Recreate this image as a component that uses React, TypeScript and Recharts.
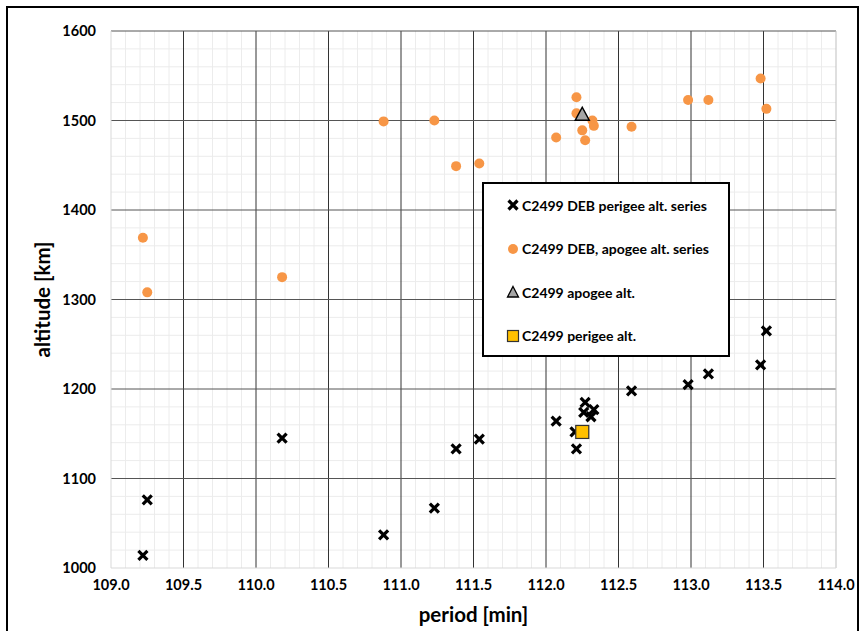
import React from 'react';
import { ScatterChart, Scatter, XAxis, YAxis, ReferenceLine } from 'recharts';

const perigeePeriod = [109.22, 109.25, 110.18, 110.88, 111.23, 111.38, 111.54, 112.07, 112.21, 112.2, 112.26, 112.27, 112.31, 112.33, 112.59, 112.98, 113.12, 113.48, 113.52];
const perigeeAlt = [1014, 1076, 1145, 1037, 1067, 1133, 1144, 1164, 1133, 1152, 1174, 1185, 1169, 1177, 1198, 1205, 1217, 1227, 1265];
const apogeePeriod = [109.22, 109.25, 110.18, 110.88, 111.23, 111.38, 111.54, 112.07, 112.21, 112.21, 112.25, 112.27, 112.32, 112.33, 112.59, 112.98, 113.12, 113.48, 113.52];
const apogeeAlt = [1369, 1308, 1325, 1499, 1500, 1449, 1452, 1481, 1526, 1508, 1489, 1478, 1500, 1494, 1493, 1523, 1523, 1547, 1513];
const c2499Apogee = [{ period: 112.25, alt: 1507 }];
const c2499Perigee = [{ period: 112.25, alt: 1152 }];

const xTicks = [109.0, 109.5, 110.0, 110.5, 111.0, 111.5, 112.0, 112.5, 113.0, 113.5, 114.0];
const yTicks = [1000, 1100, 1200, 1300, 1400, 1500, 1600];

const seriesNames = [
  'C2499 DEB perigee alt. series',
  'C2499 DEB, apogee alt. series',
  'C2499 apogee alt.',
  'C2499 perigee alt.',
];

const perigeeData = perigeePeriod.map((p, i) => ({ period: p, alt: perigeeAlt[i] }));
const apogeeData = apogeePeriod.map((p, i) => ({ period: p, alt: apogeeAlt[i] }));

const minorX: number[] = [];
for (let i = 1; i < 50; i++) { if (i % 5 !== 0) minorX.push(Math.round((109 + i * 0.1) * 10) / 10); }
const minorY: number[] = [];
for (let i = 1; i < 30; i++) { if (i % 5 !== 0) minorY.push(1000 + i * 20); }

const FONT = 'Lato, "Open Sans", sans-serif';
const ORANGE = '#F79646';

const Cross = (props: any) => {
  const { cx, cy } = props;
  const s = 4.5;
  return (
    <path d={`M${cx - s},${cy - s}L${cx + s},${cy + s}M${cx + s},${cy - s}L${cx - s},${cy + s}`} stroke="#000" strokeWidth={3.2} fill="none" />
  );
};
const Dot = (props: any) => <circle cx={props.cx} cy={props.cy} r={5} fill={ORANGE} />;
const Tri = (props: any) => {
  const { cx, cy } = props;
  return <path d={`M${cx},${cy - 7}L${cx + 7},${cy + 6}L${cx - 7},${cy + 6}Z`} fill="#A5A5A5" stroke="#000" strokeWidth={1.5} />;
};
const Sq = (props: any) => {
  const { cx, cy } = props;
  return <rect x={cx - 6.5} y={cy - 6.5} width={13} height={13} fill="#FFC000" stroke="#333" strokeWidth={1.2} />;
};

const legendIcon = (i: number) => {
  const w = 14;
  return (
    <svg width={w} height={w} style={{ display: 'block' }}>
      {i === 0 && <path d="M2.5,2.5L11.5,11.5M11.5,2.5L2.5,11.5" stroke="#000" strokeWidth={3.2} />}
      {i === 1 && <circle cx={7} cy={7} r={5} fill={ORANGE} />}
      {i === 2 && <path d="M7,1.5L12.5,12L1.5,12Z" fill="#A5A5A5" stroke="#000" strokeWidth={1.3} />}
      {i === 3 && <rect x={1.5} y={1.5} width={11} height={11} fill="#FFC000" stroke="#333" strokeWidth={1.2} />}
    </svg>
  );
};

export default function App() {
  return (
    <div style={{ position: 'fixed', left: 0, top: 0, width: 863, height: 631, background: '#fff', overflow: 'hidden', fontFamily: FONT }}>
      <div style={{ position: 'absolute', left: 6, top: 6, width: 849, height: 700, border: '2px solid #000' }} />
      <div style={{ position: 'absolute', left: 0, top: 0 }}>
        <ScatterChart width={863} height={631} margin={{ top: 31, right: 27, bottom: 33, left: 31 }}>
          <XAxis
            type="number"
            dataKey="period"
            domain={[109, 114]}
            ticks={xTicks}
            tickFormatter={(v: number) => v.toFixed(1)}
            axisLine={false}
            tickLine={false}
            tickSize={0}
            tickMargin={12}
            height={30}
            tick={{ fill: '#000', fontSize: 14.5, fontWeight: 700, fontFamily: FONT }}
            label={{ value: 'period [min]', position: 'insideBottom', offset: -24, fill: '#000', fontSize: 20.5, fontWeight: 700, fontFamily: FONT }}
          />
          <YAxis
            type="number"
            dataKey="alt"
            domain={[1000, 1600]}
            ticks={yTicks}
            axisLine={false}
            tickLine={false}
            tickSize={0}
            tickMargin={15}
            width={80}
            tick={{ fill: '#000', fontSize: 14.5, fontWeight: 700, fontFamily: FONT }}
            label={{ value: 'altitude [km]', angle: -90, position: 'insideLeft', offset: 12, style: { textAnchor: 'middle' }, fill: '#000', fontSize: 20.5, fontWeight: 700, fontFamily: FONT }}
          />
          {minorX.map((x) => (
            <ReferenceLine key={'mx' + x} x={x} stroke="#ececec" strokeWidth={1} ifOverflow="hidden" />
          ))}
          {minorY.map((y) => (
            <ReferenceLine key={'my' + y} y={y} stroke="#ececec" strokeWidth={1} ifOverflow="hidden" />
          ))}
          {xTicks.slice(1, -1).map((x) => (
            <ReferenceLine key={'Mx' + x} x={x} stroke="#333" strokeWidth={1} />
          ))}
          {yTicks.slice(1).map((y) => (
            <ReferenceLine key={'My' + y} y={y} stroke="#555" strokeWidth={1} />
          ))}
          <ReferenceLine x={109} stroke="#d9d9d9" strokeWidth={1} />
          <ReferenceLine x={114} stroke="#bfbfbf" strokeWidth={1} />
          <ReferenceLine y={1000} stroke="#d9d9d9" strokeWidth={1} />
          <Scatter name={seriesNames[1]} data={apogeeData} shape={Dot} isAnimationActive={false} />
          <Scatter name={seriesNames[0]} data={perigeeData} shape={Cross} isAnimationActive={false} />
          <Scatter name={seriesNames[2]} data={c2499Apogee} shape={Tri} isAnimationActive={false} />
          <Scatter name={seriesNames[3]} data={c2499Perigee} shape={Sq} isAnimationActive={false} />
        </ScatterChart>
      </div>
      <div style={{ position: 'absolute', left: 482, top: 182, width: 244, height: 171, border: '2px solid #000', background: '#fff' }}>
        {seriesNames.map((n, i) => (
          <div key={n} style={{ position: 'absolute', left: 22, top: 13 + i * 43.5, height: 16, display: 'flex', alignItems: 'center', gap: 2, whiteSpace: 'nowrap' }}>
            {legendIcon(i)}
            <span style={{ fontSize: 14, fontWeight: 700, color: '#000', fontFamily: FONT }}>{n}</span>
          </div>
        ))}
      </div>
    </div>
  );
}
